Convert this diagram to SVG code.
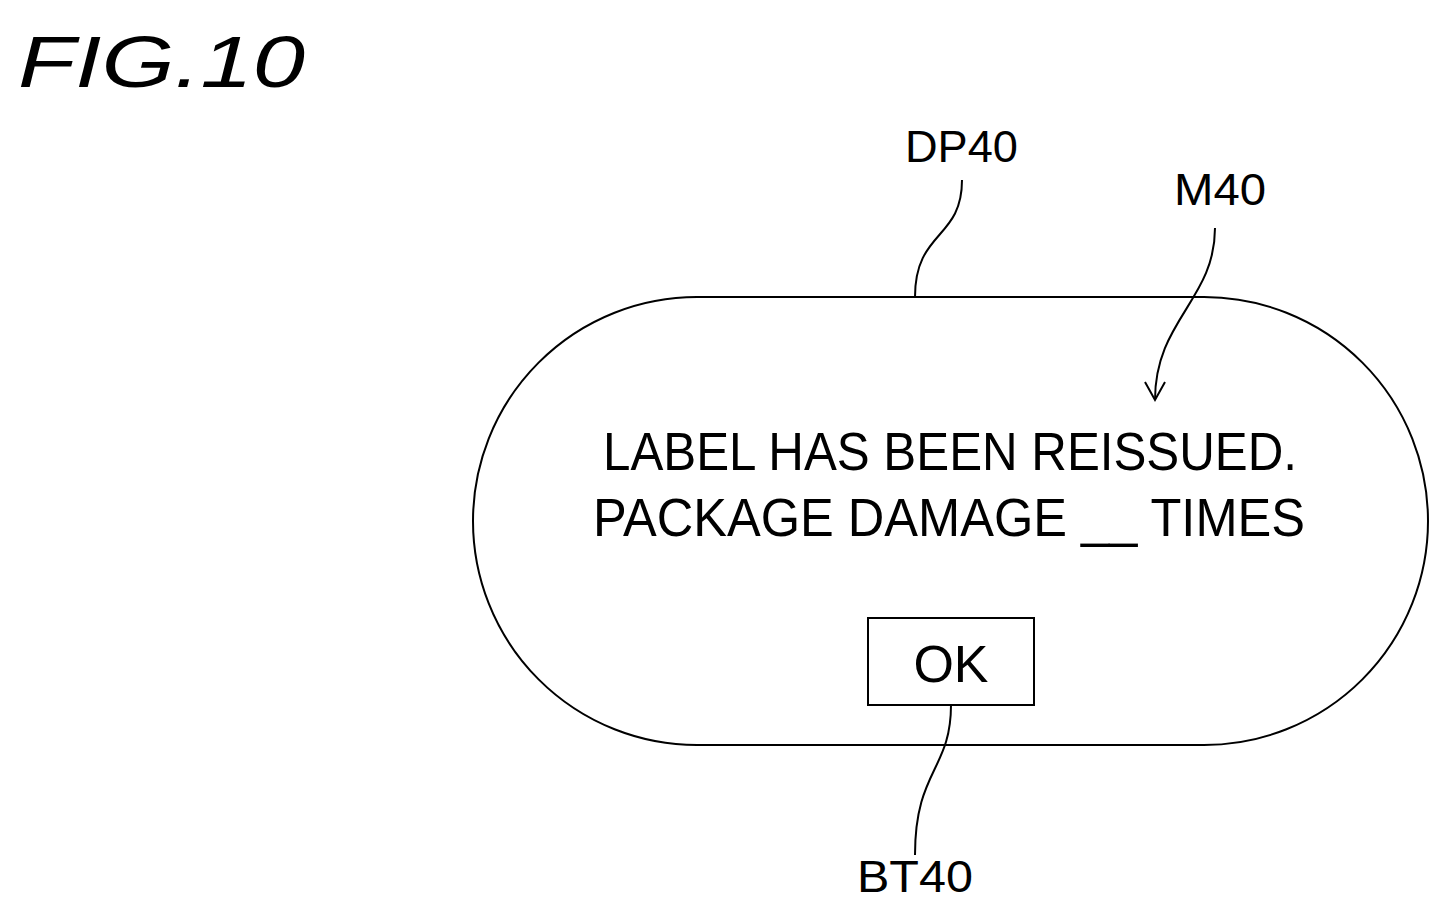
<svg xmlns="http://www.w3.org/2000/svg" width="1451" height="913" viewBox="0 0 1451 913">
<style>
.t{font-family:"Liberation Sans",Arial,sans-serif;fill:#000}
.l{fill:none;stroke:#000;stroke-width:2}
</style>
<rect width="1451" height="913" fill="#fff"/>
<text class="t" x="18" y="87" font-size="72" font-style="italic" textLength="287" lengthAdjust="spacingAndGlyphs">FIG.10</text>
<g id="DP40">
<rect class="l" x="473" y="297" width="955" height="448" rx="224" ry="224"/>
<text class="t" x="905" y="162" font-size="44" textLength="113" lengthAdjust="spacingAndGlyphs">DP40</text>
</g>
<g id="M40">
<text class="t" x="1174" y="205" font-size="44" textLength="92" lengthAdjust="spacingAndGlyphs">M40</text>
<text class="t" x="603" y="470" font-size="54" textLength="694" lengthAdjust="spacingAndGlyphs">LABEL HAS BEEN REISSUED.</text>
<text class="t" x="593" y="536" font-size="54" textLength="712" lengthAdjust="spacingAndGlyphs">PACKAGE DAMAGE __ TIMES</text>
</g>
<g id="BT40">
<rect class="l" x="868" y="618" width="166" height="87"/>
<text class="t" x="951" y="682" font-size="52" text-anchor="middle">OK</text>
<text class="t" x="857" y="892" font-size="44" textLength="116" lengthAdjust="spacingAndGlyphs">BT40</text>
</g>
<g id="connectors">
<path class="l" d="M962,180 C962,240 915,230 915,297"/>
<path class="l" d="M1215,228 C1215,300 1155,320 1155,400"/>
<path class="l" d="M1145,382 L1155,400 L1165,382"/>
<path class="l" d="M951,705 C951,770 915,770 915,855"/>
</g>
</svg>
